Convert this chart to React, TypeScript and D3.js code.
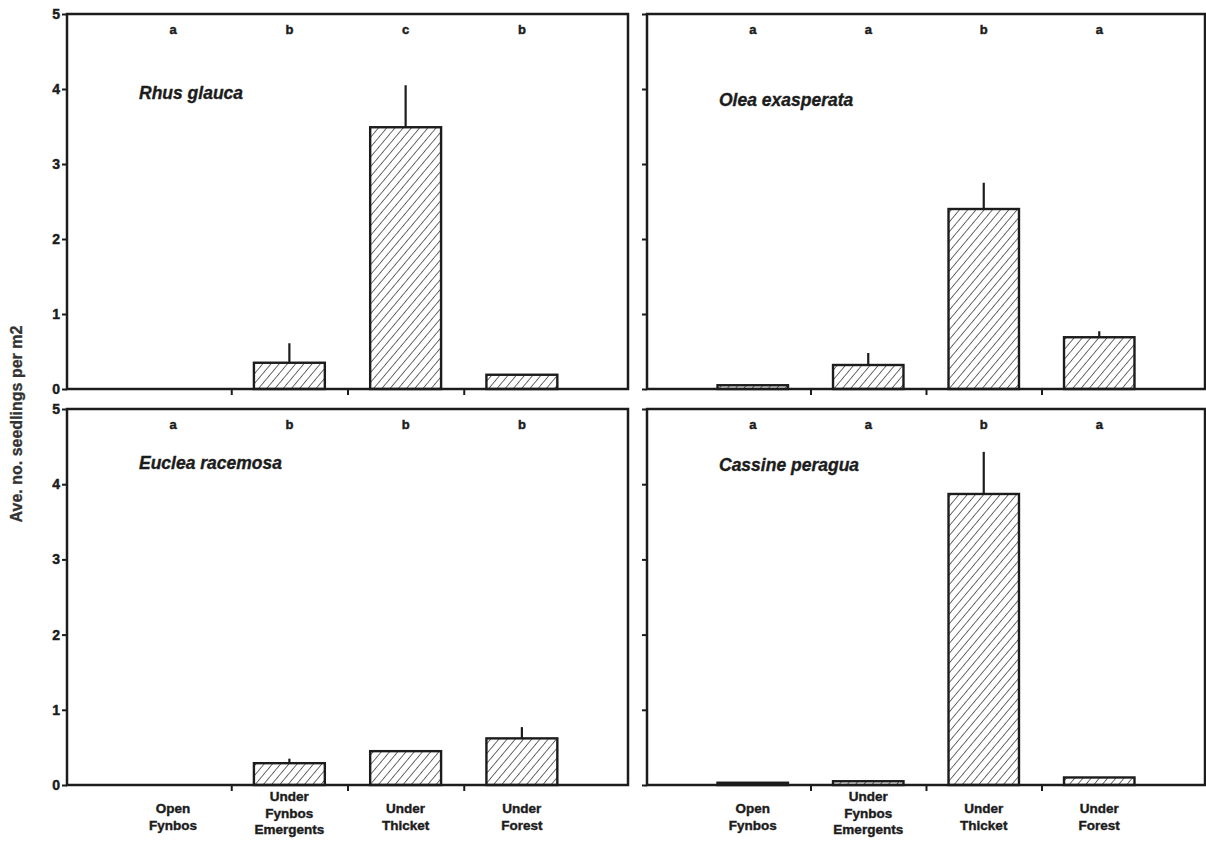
import React, { useRef, useEffect } from 'react';
import * as d3 from 'd3';

const categories = ['Open Fynbos', 'Under Fynbos Emergents', 'Under Thicket', 'Under Forest'];
const categoryLines = [['Open', 'Fynbos'], ['Under', 'Fynbos', 'Emergents'], ['Under', 'Thicket'], ['Under', 'Forest']];
const species = ['Rhus glauca', 'Olea exasperata', 'Euclea racemosa', 'Cassine peragua'];

const rhusMeans = [0, 0.35, 3.49, 0.19];
const rhusErrors = [0, 0.26, 0.56, 0];
const rhusLetters = ['a', 'b', 'c', 'b'];

const oleaMeans = [0.05, 0.32, 2.4, 0.69];
const oleaErrors = [0, 0.16, 0.35, 0.08];
const oleaLetters = ['a', 'a', 'b', 'a'];

const eucleaMeans = [0, 0.29, 0.45, 0.62];
const eucleaErrors = [0, 0.06, 0, 0.15];
const eucleaLetters = ['a', 'b', 'b', 'b'];

const cassineMeans = [0.03, 0.05, 3.87, 0.1];
const cassineErrors = [0, 0, 0.56, 0];
const cassineLetters = ['a', 'a', 'b', 'a'];

const yTicks = [0, 1, 2, 3, 4, 5];
const yTitle = 'Ave. no. seedlings per m2';

const INK = '#1c1c1c';
const FONT = '"Liberation Sans", Arial, Helvetica, sans-serif';

// bold text with a thin outline so it reads as heavy as the scanned original
const heavy = (sel: any, size: number, stroke = 0.45) => sel
  .attr('font-family', FONT)
  .attr('font-weight', 'bold')
  .attr('font-size', size)
  .attr('fill', INK)
  .attr('stroke', INK)
  .attr('stroke-width', stroke);

const App = () => {
  const svgRef = useRef<SVGSVGElement>(null);

  useEffect(() => {
    const svg = d3.select(svgRef.current);
    svg.selectAll('*').remove();

    const width = 1206;
    const height = 845;
    svg.attr('width', width).attr('height', height);

    const defs = svg.append('defs');
    defs.append('pattern')
      .attr('id', 'hatch')
      .attr('patternUnits', 'userSpaceOnUse')
      .attr('width', 6.3)
      .attr('height', 6.3)
      .attr('patternTransform', 'rotate(40)')
      .append('line')
      .attr('x1', 0).attr('y1', 0)
      .attr('x2', 0).attr('y2', 6.3)
      .attr('stroke', INK)
      .attr('stroke-width', 1.3);

    const panels = [
      { x0: 67, x1: 628, y0: 14, y1: 389, means: rhusMeans, errs: rhusErrors, letters: rhusLetters, name: species[0], labels: true, nameY: 99, xLabels: false },
      { x0: 647, x1: 1205, y0: 14, y1: 389, means: oleaMeans, errs: oleaErrors, letters: oleaLetters, name: species[1], labels: false, nameY: 106, xLabels: false },
      { x0: 67, x1: 628, y0: 409, y1: 785, means: eucleaMeans, errs: eucleaErrors, letters: eucleaLetters, name: species[2], labels: true, nameY: 469, xLabels: true },
      { x0: 647, x1: 1205, y0: 409, y1: 785, means: cassineMeans, errs: cassineErrors, letters: cassineLetters, name: species[3], labels: false, nameY: 471, xLabels: true },
    ];

    panels.forEach(p => {
      const pad = 0.39;
      const x = d3.scaleBand()
        .domain(categories)
        .range([p.x0 + 48, p.x1 - 48])
        .paddingInner(pad)
        .paddingOuter(pad / 2);

      const y = d3.scaleLinear()
        .domain([0, 5])
        .range([p.y1, p.y0]);

      const g = svg.append('g');

      // y axis ticks
      const yAxis = d3.axisLeft(y)
        .tickValues(yTicks)
        .tickSize(5)
        .tickPadding(2)
        .tickFormat(p.labels ? d3.format('d') : () => '');
      const ya = g.append('g')
        .attr('transform', `translate(${p.x0}, 0)`)
        .call(yAxis);
      ya.select('.domain').remove();
      ya.selectAll('line').attr('stroke', INK).attr('stroke-width', 2);
      heavy(ya.selectAll('text'), 14);

      // x axis boundary ticks
      const step = x.step();
      const boundaries = categories.slice(0, -1).map(c => (x(c) as number) + x.bandwidth() + step * pad / 2);
      const xb = d3.scaleLinear().domain([p.x0, p.x1]).range([p.x0, p.x1]);
      const xa = g.append('g')
        .attr('transform', `translate(0, ${p.y1})`)
        .call(d3.axisBottom(xb).tickValues(boundaries).tickSize(6).tickFormat(() => ''));
      xa.select('.domain').remove();
      xa.selectAll('line').attr('stroke', INK).attr('stroke-width', 2);

      // bars
      const idx = d3.range(categories.length);
      g.selectAll('rect.bar')
        .data(idx.filter(i => p.means[i] > 0))
        .join('rect')
        .attr('class', 'bar')
        .attr('x', i => x(categories[i]) as number)
        .attr('y', i => y(p.means[i]))
        .attr('width', x.bandwidth())
        .attr('height', i => y(0) - y(p.means[i]))
        .attr('fill', 'url(#hatch)')
        .attr('stroke', INK)
        .attr('stroke-width', 2.4);

      // error bars
      g.selectAll('line.err')
        .data(idx.filter(i => p.errs[i] > 0))
        .join('line')
        .attr('class', 'err')
        .attr('x1', i => (x(categories[i]) as number) + x.bandwidth() / 2)
        .attr('x2', i => (x(categories[i]) as number) + x.bandwidth() / 2)
        .attr('y1', i => y(p.means[i]))
        .attr('y2', i => y(p.means[i] + p.errs[i]))
        .attr('stroke', INK)
        .attr('stroke-width', 2.2);

      // frame
      g.append('rect')
        .attr('x', p.x0)
        .attr('y', p.y0)
        .attr('width', p.x1 - p.x0)
        .attr('height', p.y1 - p.y0)
        .attr('fill', 'none')
        .attr('stroke', INK)
        .attr('stroke-width', 2.5);

      // significance letters
      heavy(g.selectAll('text.letter')
        .data(idx)
        .join('text')
        .attr('class', 'letter')
        .attr('x', i => (x(categories[i]) as number) + x.bandwidth() / 2)
        .attr('y', p.y0 + 20)
        .attr('text-anchor', 'middle'), 13)
        .text(i => p.letters[i]);

      // species name
      heavy(g.append('text')
        .attr('x', p.x0 + 72)
        .attr('y', p.nameY)
        .attr('font-style', 'italic'), 17.5, 0.35)
        .text(p.name);

      // category labels
      if (p.xLabels) {
        idx.forEach(i => {
          const lines = categoryLines[i];
          const cx = (x(categories[i]) as number) + x.bandwidth() / 2;
          const t = heavy(g.append('text')
            .attr('x', cx)
            .attr('y', lines.length === 3 ? p.y1 + 16 : p.y1 + 28)
            .attr('text-anchor', 'middle'), 13.5, 0.4);
          lines.forEach((l, j) => {
            t.append('tspan')
              .attr('x', cx)
              .attr('dy', j === 0 ? 0 : 16.5)
              .text(l);
          });
        });
      }
    });

    // y axis title
    heavy(svg.append('text')
      .attr('transform', 'translate(22, 424) rotate(-90)')
      .attr('text-anchor', 'middle'), 16, 0.3)
      .attr('fill', '#333')
      .attr('stroke', '#333')
      .text(yTitle);
  }, []);

  return <svg ref={svgRef} style={{ position: 'absolute', left: 0, top: 0, background: '#fff' }}></svg>;
};

export default App;
